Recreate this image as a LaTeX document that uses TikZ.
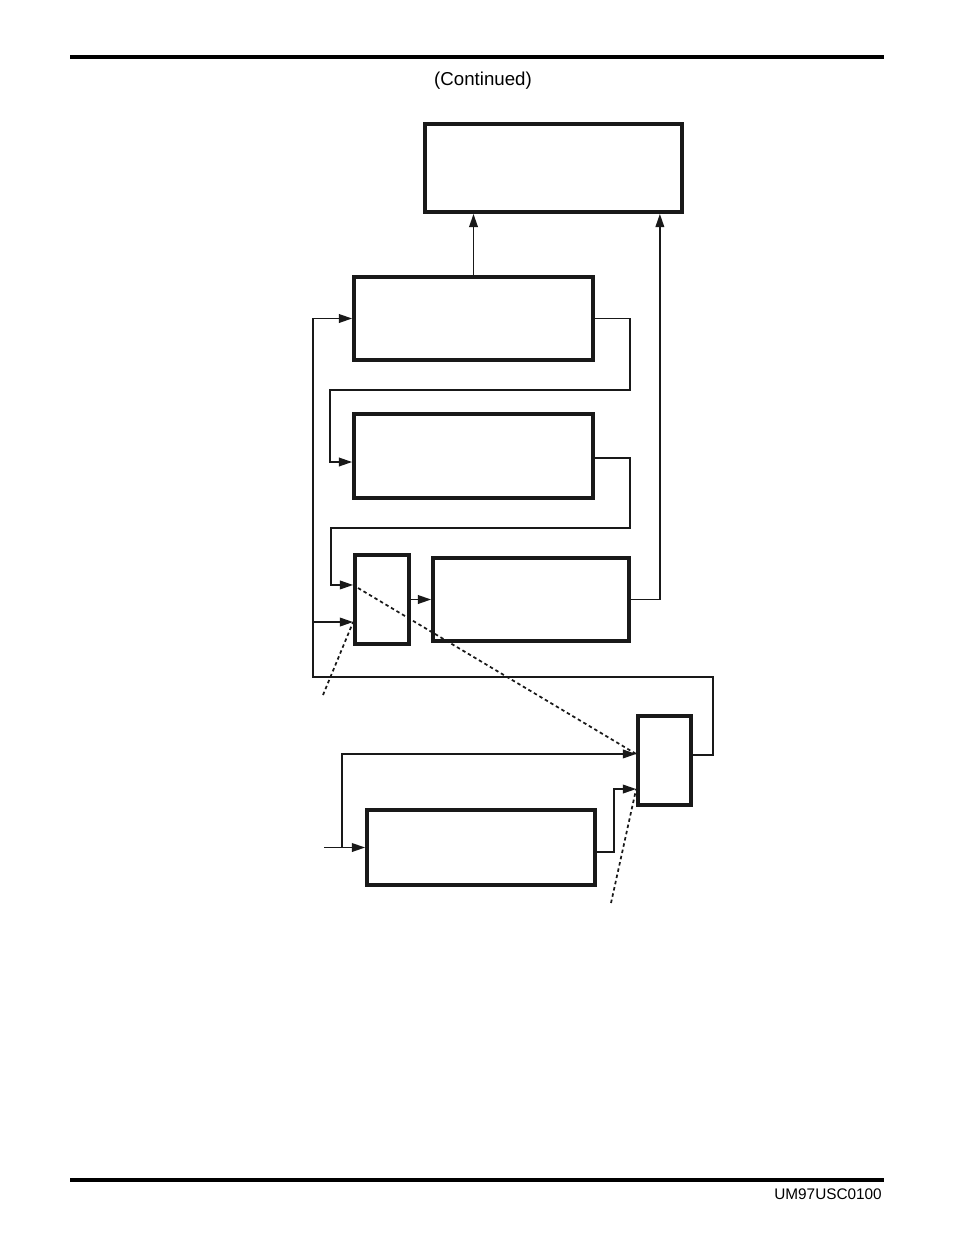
\documentclass[tikz,border=0pt]{standalone}
\usepackage{fontspec}
\setmainfont{Liberation Sans}
\usetikzlibrary{arrows.meta}

\begin{document}
\begin{tikzpicture}[
x=0.75pt, y=-0.75pt,
blockbox/.style={rectangle, draw=black!90, line width=2.8pt, inner sep=0pt},
arr/.style={-{Triangle[length=10pt,width=6.5pt]}, line width=1.3pt, black!90},
dots/.style={line width=1.3pt, black!90, dash pattern=on 2.6pt off 2.2pt},
rule/.style={line width=3.2pt, black},
]
\useasboundingbox (0,0) rectangle (954,1235);

%Rules and texts
\draw[rule] (70,57) -- (884,57);
\draw[rule] (70,1180) -- (884,1180);
\node[font=\fontsize{14}{16}\selectfont] (cont) at (483,81) {(Continued)};
\node[font=\fontsize{11.5}{13}\selectfont, anchor=east, inner sep=0pt] (docno) at (882,1194) {UM97USC0100};

%Nodes
\node[blockbox, minimum width=192.75pt, minimum height=66pt]   (out)  at (553.5,168)   {};
\node[blockbox, minimum width=179.25pt, minimum height=62.25pt] (stga) at (473.5,318.5) {};
\node[blockbox, minimum width=179.25pt, minimum height=63pt]    (stgb) at (473.5,456)   {};
\node[blockbox, minimum width=40.5pt,  minimum height=66.75pt]  (swa)  at (382,599.5)   {};
\node[blockbox, minimum width=147pt,   minimum height=62.25pt]  (stgc) at (531,599.5)   {};
\node[blockbox, minimum width=39.75pt, minimum height=66.75pt]  (swb)  at (664.5,760.5) {};
\node[blockbox, minimum width=171pt,   minimum height=56.25pt]  (stgd) at (481,847.5)   {};

%Coordinates
\coordinate (fb)   at (313,677);
\coordinate (swaa) at ([yshift=10.9pt]swa.west);
\coordinate (swab) at ([yshift=-16.9pt]swa.west);
\coordinate (swba) at ([yshift=4.9pt]swb.west);
\coordinate (swbb) at ([yshift=-21.4pt]swb.west);
\coordinate (din)  at (324,847.5);

%Lines
\draw[arr] (stga.north) -- (stga.north |- out.south);
\draw[arr] (stgc.east) -| ([xshift=-18pt]out.south east);
\draw[arr] (stga.east) -- ++(35,0) |- (330,390) |- ([yshift=-4.5pt]stgb.west);
\draw[arr] ([yshift=-1.5pt]stgb.east) -- ++(35,0) |- (331,528) |- (swaa);
\draw[arr] ([yshift=4pt]swb.east) -| (713,677) -- (fb) |- (stga.west);
\draw[arr] (fb |- swab) -- (swab);
\draw[arr] (swa.east) -- (stgc.west);
\draw[arr] (din) -- (stgd.west);
\draw[arr] (342,847.5) |- (swba);
\draw[arr] ([yshift=-3.4pt]stgd.east) -- ++(17,0) |- (swbb);

%Dotted
\draw[dots] (358,588) -- (swba);
\draw[dots] (323,695) -- (swab);
\draw[dots] (611,903) -- (swbb);

\end{tikzpicture}
\end{document}
